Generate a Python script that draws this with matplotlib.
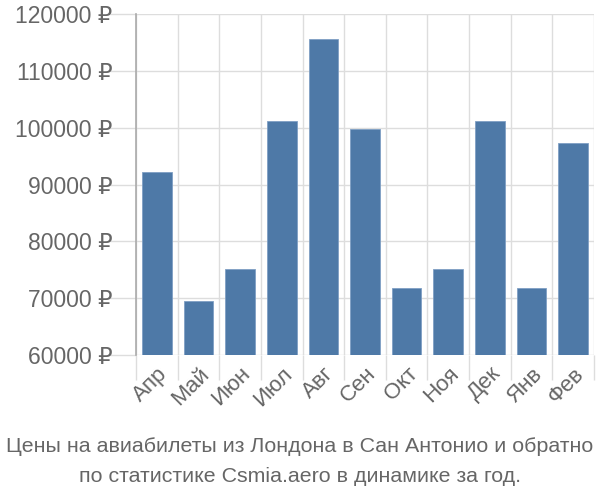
import matplotlib
matplotlib.use("Agg")
import matplotlib.pyplot as plt

months = ["Апр", "Май", "Июн", "Июл", "Авг", "Сен", "Окт", "Ноя", "Дек", "Янв", "Фев"]
prices = [92150, 69550, 75080, 101230, 115550, 99710, 71740, 75130, 101120, 71740, 97250]
yticks = [60000, 70000, 80000, 90000, 100000, 110000, 120000]
title_lines = ["Цены на авиабилеты из Лондона в Сан Антонио и обратно",
               "по статистике Csmia.aero в динамике за год."]

plt.rcParams['font.family'] = ['Liberation Sans', 'DejaVu Sans']

fig = plt.figure(figsize=(6, 5), dpi=100)
ax = fig.add_axes([136/600, 1-355/500, (594-136)/600, (355-14)/500])

x = list(range(len(months)))
ax.bar(x, prices, width=0.71, color="#4e79a7", edgecolor="#7f9fc4", linewidth=0.6, zorder=3)
ax.set_xlim(-0.5, len(months) - 0.5)
ax.set_ylim(60000, 120000)
ax.set_yticks(yticks)
ax.set_yticklabels([f"{v} ₽" for v in yticks])
ax.set_xticks([i - 0.5 for i in range(len(months) + 1)], minor=False)
ax.set_xticklabels([])
ax.set_xticks(x, minor=True)
ax.set_xticklabels(months, minor=True, rotation=45, ha="right", va="top",
                   rotation_mode="anchor", fontsize=16, color="#666666")
ax.tick_params(axis="x", which="minor", length=0, pad=6)
ax.tick_params(axis="x", which="major", length=18, color="#dddddd", width=1)
ax.tick_params(axis="y", length=19, color="#dddddd", width=1, labelsize=16.5, labelcolor="#666666", pad=-2)
ax.grid(True, which="major", color="#dddddd", linewidth=1, zorder=0)
for s in ["top", "right", "bottom"]:
    ax.spines[s].set_visible(False)
ax.spines["left"].set_color("#aaaaaa")
ax.spines["left"].set_linewidth(1.2)

fig.text(0.5, 1-447/500, title_lines[0], ha="center", va="center", fontsize=15.4, color="#666666")
fig.text(0.5, 1-476/500, title_lines[1], ha="center", va="center", fontsize=15.4, color="#666666")

fig.savefig("out.png", dpi=100)
